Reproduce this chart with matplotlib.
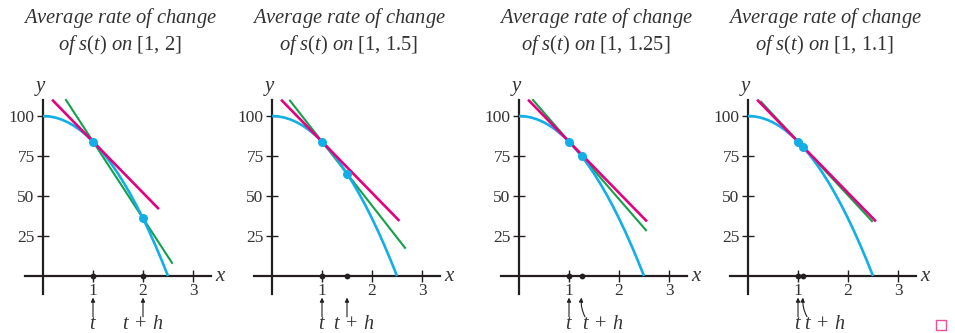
import matplotlib
matplotlib.use("Agg")
import matplotlib.pyplot as plt
from matplotlib.patches import Rectangle

plt.rcParams.update({
    "font.family": "Liberation Serif",
    "mathtext.fontset": "custom",
    "mathtext.rm": "Liberation Serif",
    "mathtext.it": "Liberation Serif:italic",
})

# s(t)
curve_t = [0, 0.125, 0.25, 0.375, 0.5, 0.625, 0.75, 0.875, 1.0, 1.125, 1.25,
           1.375, 1.5, 1.625, 1.75, 1.875, 2.0, 2.125, 2.25, 2.375, 2.5]
curve_s = [100, 99.75, 99, 97.75, 96, 93.75, 91, 87.75, 84, 79.75, 75,
           69.75, 64, 57.75, 51, 43.75, 36, 27.75, 19, 9.75, 0]

t0, s0 = 1.0, 84
intervals = ["[1,\\,2]", "[1,\\,1.5]", "[1,\\,1.25]", "[1,\\,1.1]"]
t_h = [2.0, 1.5, 1.25, 1.1]
s_h = [36, 64, 75, 80.6]

# secant (green) and tangent (magenta) segments per panel: (t_start, s_start, t_end, s_end)
secant = [(0.46, 110, 2.58, 8.2), (0.36, 109.6, 2.66, 17.6),
          (0.28, 110, 2.54, 28.6), (0.26, 108.9, 2.48, 34.3)]
tangent = [(0.2, 109.6, 2.3, 42.4), (0.2, 109.6, 2.53, 35.0),
           (0.2, 109.6, 2.54, 34.7), (0.2, 109.6, 2.54, 34.7)]

# label x for "t + h" (left edge), arrow foot and arrow bend
label_x = [1.58, 1.22, 1.26, 1.12]
arrow_foot = [2.0, 1.5, 1.32, 1.18]
arrow_bend = [0.0, 0.0, -0.15, -0.15]

CYAN = "#12aee8"
MAGENTA = "#e4007f"
GREEN = "#13a04a"
INK = "#231f20"
TXT = "#333333"

W, H = 955, 333
fig = plt.figure(figsize=(W / 100, H / 100), dpi=100)

axis_px = [43, 272, 519, 748]   # pixel x of each y-axis
for i, x0 in enumerate(axis_px):
    # data -> pixel: x = x0 + 50 t ; y = 276 - 1.6 s
    xlo, xhi = -0.5, 3.6
    ylo, yhi = -35.6, 116
    left = (x0 + 50 * xlo) / W
    width = 50 * (xhi - xlo) / W
    bottom = (H - (276 - 1.6 * ylo)) / H
    height = 1.6 * (yhi - ylo) / H
    ax = fig.add_axes([left, bottom, width, height])
    ax.set_xlim(xlo, xhi)
    ax.set_ylim(ylo, yhi)
    ax.patch.set_alpha(0)

    for side in ("top", "right"):
        ax.spines[side].set_visible(False)
    ax.spines["left"].set_position(("data", 0))
    ax.spines["bottom"].set_position(("data", 0))
    ax.spines["left"].set_bounds(-11, 110)
    ax.spines["bottom"].set_bounds(-0.36, 3.35)
    for side in ("left", "bottom"):
        ax.spines[side].set_linewidth(1.6)
        ax.spines[side].set_color(INK)

    ax.set_xticks([1, 2, 3])
    ax.set_yticks([25, 50, 75, 100])
    ax.tick_params(direction="inout", length=8, width=1.0, color=INK,
                   labelsize=12.5, labelcolor=TXT)
    ax.tick_params(axis="x", pad=1)
    ax.tick_params(axis="y", pad=2)

    ax.text(-0.04, 117.5, "$y$", fontsize=15, ha="center", va="center", color=TXT)
    ax.text(3.44, 0, "$x$", fontsize=15, ha="left", va="center", color=TXT)

    ax.plot(curve_t, curve_s, color=CYAN, lw=1.9, solid_capstyle="butt", zorder=3)
    sx0, sy0, sx1, sy1 = secant[i]
    ax.plot([sx0, sx1], [sy0, sy1], color=GREEN, lw=1.5, zorder=2)
    tx0, ty0, tx1, ty1 = tangent[i]
    ax.plot([tx0, tx1], [ty0, ty1], color=MAGENTA, lw=1.9, zorder=4)

    ax.plot([t0, t_h[i]], [s0, s_h[i]], "o", color=CYAN, ms=6.5, mec="none", zorder=5)
    ax.plot([t0, t_h[i]], [0, 0], "o", color=INK, ms=4.2, mec="none", zorder=5,
            clip_on=False)

    ap = dict(arrowstyle="-|>", lw=0.8, color=INK, mutation_scale=6,
              shrinkA=0, shrinkB=0)
    ax.annotate("", xy=(t0, -13.5), xytext=(t0, -25.5), arrowprops=ap,
                annotation_clip=False)
    ax.annotate("", xy=(t_h[i], -13.5), xytext=(arrow_foot[i], -25.5),
                arrowprops=dict(ap, connectionstyle=f"arc3,rad={arrow_bend[i]}"),
                annotation_clip=False)
    ax.text(t0, -30.3, "$t$", fontsize=14.5, ha="center", va="center",
            color=TXT, clip_on=False)
    ax.text(label_x[i], -30.3, "$t\\;+\\;h$", fontsize=14.5, ha="left", va="center",
            color=TXT, clip_on=False)

    ax.text(1.53, (276 - 18) / 1.6, "$Average\\ rate\\ of\\ change$",
            fontsize=14.8, ha="center", va="center", color=TXT, clip_on=False)
    ax.text(1.53, (276 - 45) / 1.6, "$of\\ s(t)\\ on\\ " + intervals[i] + "$",
            fontsize=14.8, ha="center", va="center", color=TXT, clip_on=False)

fig.add_artist(Rectangle((936 / W, (H - 330) / H), 10 / W, 10 / H,
                         transform=fig.transFigure, fill=False,
                         edgecolor="#e8509b", lw=1.0))

fig.savefig("out.png", dpi=100, facecolor="white")
